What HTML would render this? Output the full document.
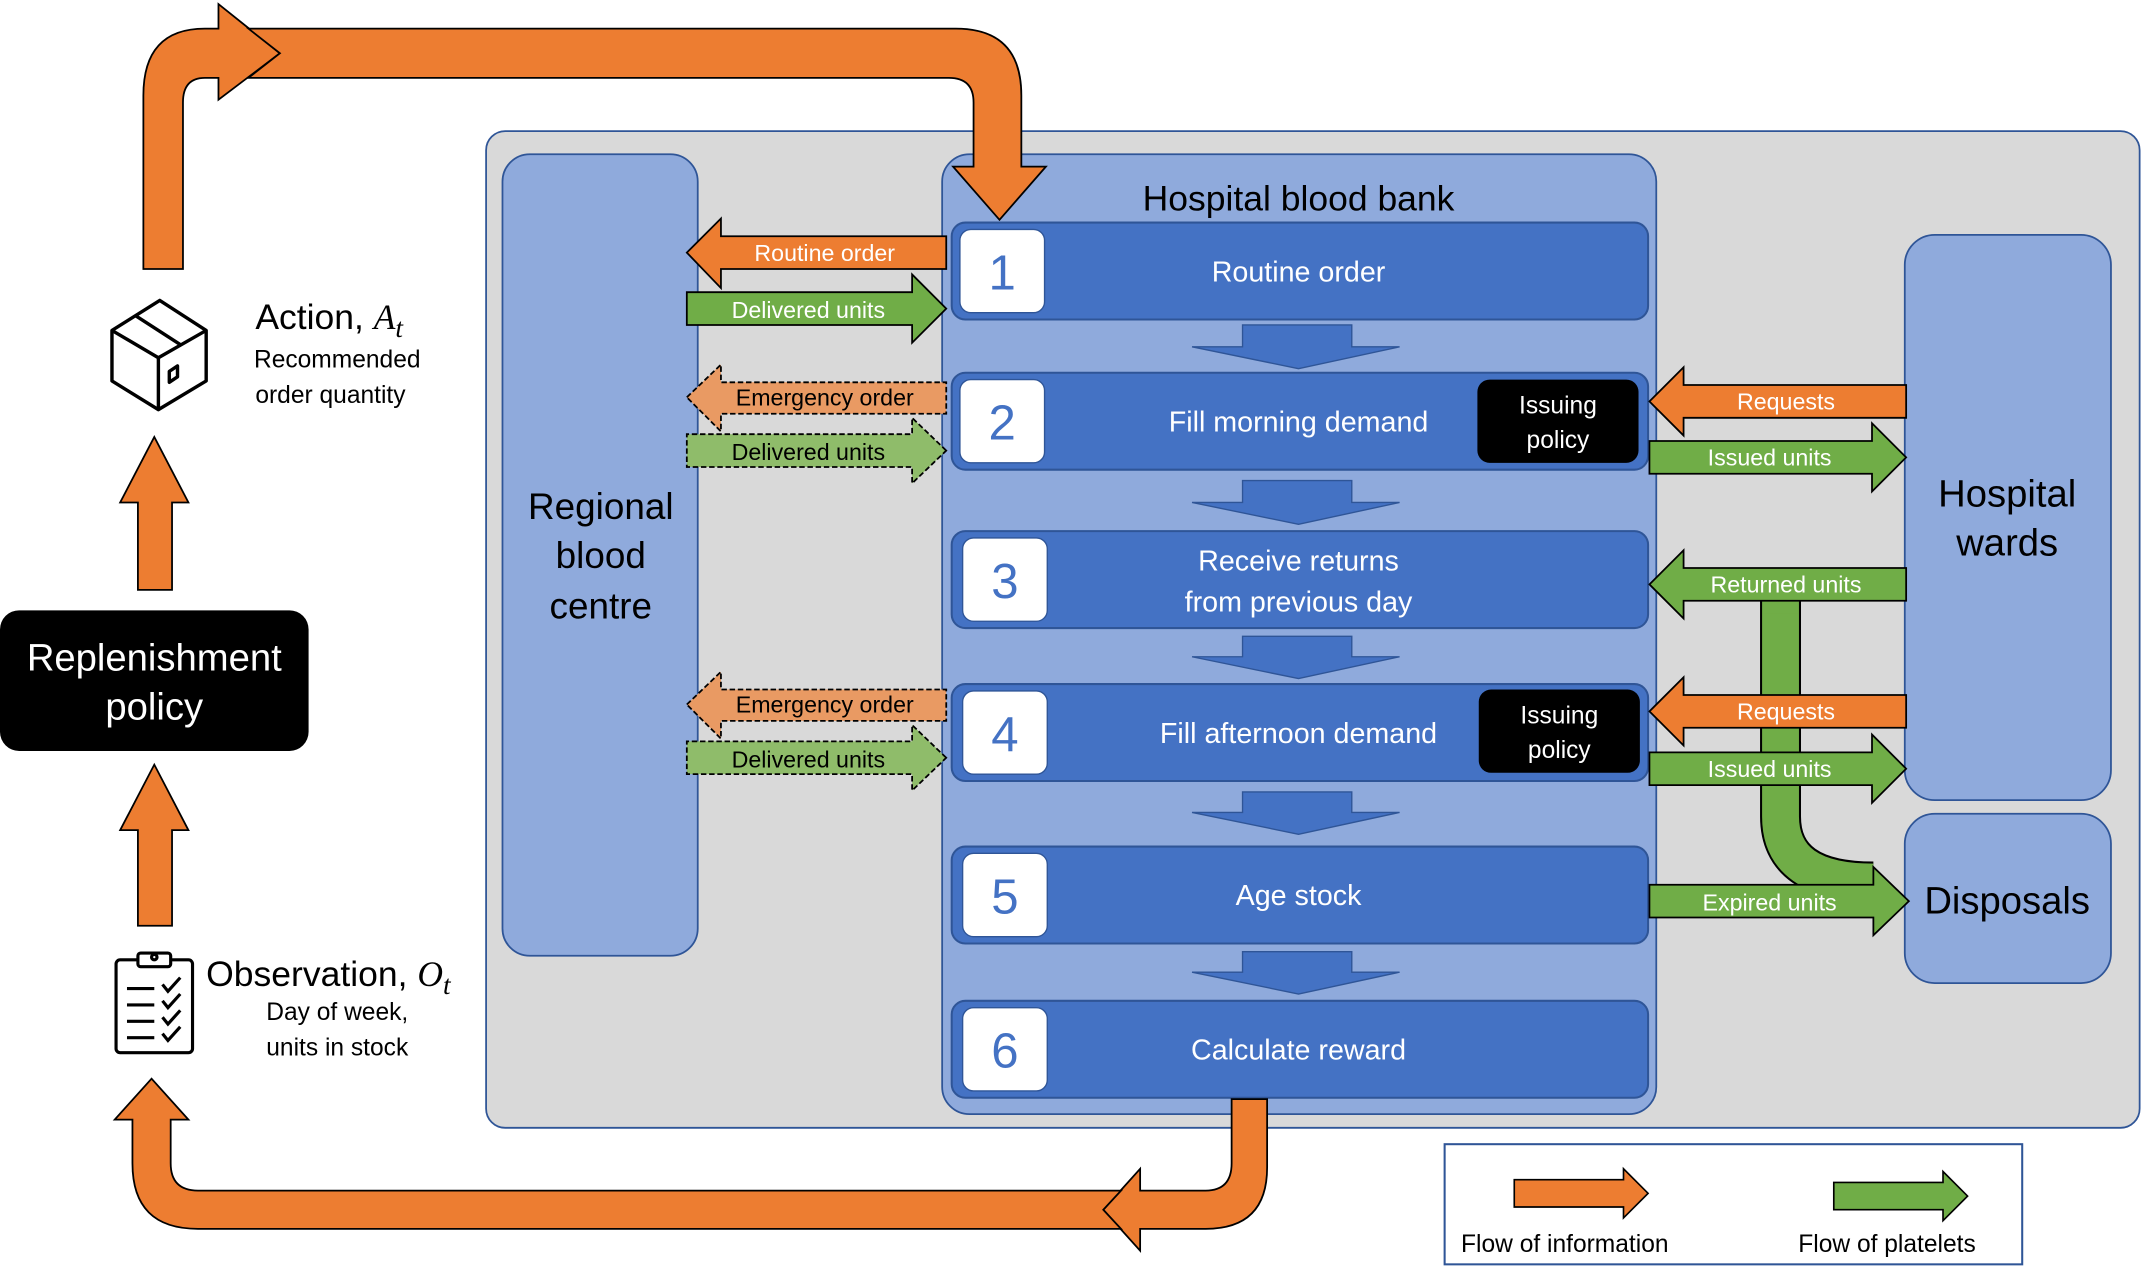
<!DOCTYPE html>
<html><head><meta charset="utf-8"><style>html,body{margin:0;padding:0;background:#fff}svg{display:block}text{font-family:"Liberation Sans",sans-serif}</style></head><body>
<svg width="2141" height="1278" viewBox="0 0 1568 936" preserveAspectRatio="none" xmlns="http://www.w3.org/2000/svg">
<rect x="356" y="96" width="1211" height="730" rx="14" fill="#d9d9d9" stroke="#2f5597" stroke-width="1.3"/>
<rect x="368" y="113" width="143" height="587" rx="20" fill="#8faadc" stroke="#2f5597" stroke-width="1.3"/>
<text x="440" y="380" font-size="27" text-anchor="middle">Regional</text>
<text x="440" y="416" font-size="27" text-anchor="middle">blood</text>
<text x="440" y="453" font-size="27" text-anchor="middle">centre</text>
<rect x="690" y="113" width="523" height="703" rx="20" fill="#8faadc" stroke="#2f5597" stroke-width="1.3"/>
<text x="951" y="154" font-size="26" text-anchor="middle">Hospital blood bank</text>
<rect x="1395" y="172" width="151" height="414" rx="22" fill="#8faadc" stroke="#2f5597" stroke-width="1.3"/>
<text x="1470" y="371" font-size="28" text-anchor="middle">Hospital</text>
<text x="1470" y="407" font-size="28" text-anchor="middle">wards</text>
<rect x="1395" y="596" width="151" height="124" rx="22" fill="#8faadc" stroke="#2f5597" stroke-width="1.3"/>
<text x="1470" y="669" font-size="28" text-anchor="middle">Disposals</text>

<g fill="#4472c4" stroke="#2f5597" stroke-width="1.5">
<rect x="697" y="163" width="510" height="71" rx="10"/>
<rect x="697" y="273" width="510" height="71" rx="10"/>
<rect x="697" y="389" width="510" height="71" rx="10"/>
<rect x="697" y="501" width="510" height="71" rx="10"/>
<rect x="697" y="620" width="510" height="71" rx="10"/>
<rect x="697" y="733" width="510" height="71" rx="10"/>
</g>
<g fill="#fff" stroke="#2f5597" stroke-width="1">
<rect x="703" y="168" width="62" height="61" rx="8"/>
<rect x="703" y="278" width="62" height="61" rx="8"/>
<rect x="705" y="394" width="62" height="61" rx="8"/>
<rect x="705" y="506" width="62" height="61" rx="8"/>
<rect x="705" y="625" width="62" height="61" rx="8"/>
<rect x="705" y="738" width="62" height="61" rx="8"/>
</g>
<g fill="#4472c4" font-size="36" text-anchor="middle">
<text x="734" y="212">1</text><text x="734" y="322">2</text><text x="736" y="438">3</text>
<text x="736" y="550">4</text><text x="736" y="669">5</text><text x="736" y="782">6</text>
</g>
<g fill="#fff" font-size="21" text-anchor="middle">
<text x="951" y="206">Routine order</text>
<text x="951" y="316">Fill morning demand</text>
<text x="951" y="418">Receive returns</text>
<text x="951" y="448">from previous day</text>
<text x="951" y="544">Fill afternoon demand</text>
<text x="951" y="663">Age stock</text>
<text x="951" y="776">Calculate reward</text>
</g>
<rect x="1082" y="278" width="118" height="61" rx="9" fill="#000"/>
<rect x="1083" y="505" width="118" height="61" rx="9" fill="#000"/>
<g fill="#fff" font-size="18" text-anchor="middle">
<text x="1141" y="303">Issuing</text><text x="1141" y="328">policy</text>
<text x="1142" y="530">Issuing</text><text x="1142" y="555">policy</text>
</g>
<g fill="#4472c4" stroke="#2f5597" stroke-width="1">
<polygon points="910,238 990,238 990,254 1025,254 951,270 873,254 910,254"/>
<polygon points="910,352 990,352 990,368 1025,368 951,384 873,368 910,368"/>
<polygon points="910,466 990,466 990,481 1025,481 951,497 873,481 910,481"/>
<polygon points="910,580 990,580 990,595 1025,595 951,611 873,595 910,595"/>
<polygon points="910,697 990,697 990,712 1025,712 951,728 873,712 910,712"/>
</g>

<g stroke="#000" stroke-width="1.3">
<polygon fill="#ed7d31" points="503,185 528,160 528,173 693,173 693,197 528,197 528,211"/>
<polygon fill="#70ad47" points="693,226 668,201 668,214 503,214 503,238 668,238 668,251"/>
<polygon fill="#e99a63" stroke-dasharray="4,2" points="503,291 528,267 528,280 693,280 693,303 528,303 528,316"/>
<polygon fill="#8fbc6a" stroke-dasharray="4,2" points="693,330 668,306 668,318 503,318 503,342 668,342 668,354"/>
<polygon fill="#e99a63" stroke-dasharray="4,2" points="503,516 528,492 528,505 693,505 693,528 528,528 528,541"/>
<polygon fill="#8fbc6a" stroke-dasharray="4,2" points="693,555 668,531 668,543 503,543 503,567 668,567 668,579"/>
</g>
<g font-size="17" text-anchor="middle">
<text x="604" y="191" fill="#fff">Routine order</text>
<text x="592" y="233" fill="#fff">Delivered units</text>
<text x="604" y="297">Emergency order</text>
<text x="592" y="337">Delivered units</text>
<text x="604" y="522">Emergency order</text>
<text x="592" y="562">Delivered units</text>
</g>

<path d="M1304 440 L1304 598 Q1304 646 1372 646" fill="none" stroke="#000" stroke-width="30"/>
<path d="M1304 438 L1304 598 Q1304 646 1372 646" fill="none" stroke="#70ad47" stroke-width="27"/>
<g stroke="#000" stroke-width="1.3">
<polygon fill="#ed7d31" points="1208,294 1233,269 1233,282 1396,282 1396,306 1233,306 1233,319"/>
<polygon fill="#70ad47" points="1396,335 1371,310 1371,323 1208,323 1208,347 1371,347 1371,360"/>
<polygon fill="#70ad47" points="1208,428 1233,403 1233,416 1396,416 1396,440 1233,440 1233,453"/>
<polygon fill="#ed7d31" points="1208,521 1233,496 1233,509 1396,509 1396,533 1233,533 1233,546"/>
<polygon fill="#70ad47" points="1396,563 1371,538 1371,551 1208,551 1208,575 1371,575 1371,588"/>
<polygon fill="#70ad47" points="1398,660 1372,635 1372,648 1208,648 1208,672 1372,672 1372,685"/>
</g>
<rect x="1291" y="441" width="26" height="8" fill="#70ad47"/>
<g font-size="17" text-anchor="middle" fill="#fff">
<text x="1308" y="300">Requests</text>
<text x="1296" y="341">Issued units</text>
<text x="1308" y="434">Returned units</text>
<text x="1308" y="527">Requests</text>
<text x="1296" y="569">Issued units</text>
<text x="1296" y="667">Expired units</text>
</g>

<path fill="#ed7d31" stroke="#000" stroke-width="1.3" d="M105,197 L105,70 Q105,21 150,21 L160,21 L160,3 L205,39 L160,73 L160,57 L150,57 Q134,57 134,75 L134,197 Z"/>
<path fill="#ed7d31" stroke="#000" stroke-width="1.3" d="M182,21 L700,21 Q748,21 748,70 L748,122 L766,122 L732,161 L698,122 L713,122 L713,75 Q713,57 695,57 L182,57 L205,39 Z"/>
<path fill="#ed7d31" stroke="#000" stroke-width="1.3" d="M902,805 L928,805 L928,855 Q928,900 883,900 L835,900 L835,916 L808,886 L835,856 L835,872 L883,872 Q902,872 902,852 Z"/>
<path fill="#ed7d31" stroke="#000" stroke-width="1.3" d="M821,872 L808,886 L821,900 L145,900 Q97,900 97,852 L97,820 L84,820 L111,790 L138,820 L125,820 L125,852 Q125,872 145,872 Z"/>
<polygon fill="#ed7d31" stroke="#000" stroke-width="1.3" points="101,432 101,368 88,368 113,320 138,368 126,368 126,432"/>
<polygon fill="#ed7d31" stroke="#000" stroke-width="1.3" points="101,678 101,608 88,608 113,560 138,608 126,608 126,678"/>

<rect x="0" y="447" width="226" height="103" rx="14" fill="#000"/>
<text x="113" y="491" font-size="28" fill="#fff" text-anchor="middle">Replenishment</text>
<text x="113" y="527" font-size="28" fill="#fff" text-anchor="middle">policy</text>

<g fill="none" stroke="#000" stroke-width="2.5" stroke-linejoin="round">
<polygon points="117,220 151,242 151,279 116,300 82,279 82,242"/>
<polyline points="82,242 116,262 151,242"/>
<line x1="116" y1="262" x2="116" y2="300"/>
<line x1="99" y1="231" x2="133" y2="253"/>
<polygon points="124,272 130,268 130,276 124,280"/>
</g>
<text x="187" y="241" font-size="26">Action, <tspan font-family="Liberation Serif" font-style="italic">A</tspan><tspan font-family="Liberation Serif" font-style="italic" font-size="20" dy="6">t</tspan></text>
<text x="186" y="269" font-size="18">Recommended</text>
<text x="187" y="295" font-size="18">order quantity</text>

<g fill="none" stroke="#000" stroke-width="2.3">
<rect x="85" y="703" width="56" height="68" rx="3"/>
<rect x="101" y="698" width="24" height="10" rx="2" fill="#fff"/>
<circle cx="113" cy="701" r="2"/>
<line x1="93" y1="724" x2="113" y2="724"/><line x1="93" y1="736" x2="113" y2="736"/>
<line x1="93" y1="748" x2="113" y2="748"/><line x1="93" y1="760" x2="113" y2="760"/>
<polyline points="119,721 123,726 132,716"/><polyline points="119,733 123,738 132,728"/>
<polyline points="119,745 123,750 132,740"/><polyline points="119,757 123,762 132,752"/>
</g>
<text x="151" y="722" font-size="26">Observation, <tspan font-family="Liberation Serif" font-style="italic">O</tspan><tspan font-family="Liberation Serif" font-style="italic" font-size="20" dy="6">t</tspan></text>
<text x="247" y="747" font-size="18" text-anchor="middle">Day of week,</text>
<text x="247" y="773" font-size="18" text-anchor="middle">units in stock</text>

<rect x="1058" y="838" width="423" height="88" fill="#fff" stroke="#2f5597" stroke-width="1.5"/>
<polygon fill="#ed7d31" stroke="#000" stroke-width="1.2" points="1109,864 1189,864 1189,856 1207,874 1189,892 1189,884 1109,884"/>
<polygon fill="#70ad47" stroke="#000" stroke-width="1.2" points="1343,866 1423,866 1423,858 1441,876 1423,894 1423,886 1343,886"/>
<text x="1070" y="917" font-size="18">Flow of information</text>
<text x="1317" y="917" font-size="18">Flow of platelets</text>
</svg>
</body></html>
